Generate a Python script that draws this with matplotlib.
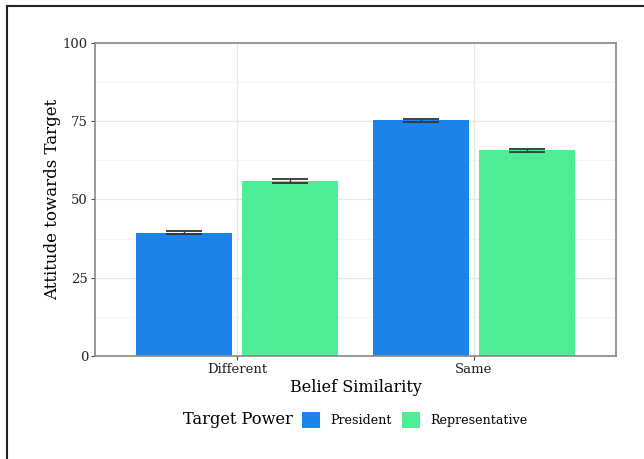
import numpy as np
import matplotlib
matplotlib.use("Agg")
import matplotlib.pyplot as plt
from matplotlib.lines import Line2D
from matplotlib.patches import Patch

# mean attitude by belief similarity and target power
similarity = ["Different", "Same"]
groups = ["President", "Representative"]
president = [39.4, 75.3]
representative = [55.9, 65.7]
president_se = [0.6, 0.5]
representative_se = [0.6, 0.5]
y_ticks = [0, 25, 50, 75, 100]

colors = {"President": "#1c83ea", "Representative": "#4eec94"}

plt.rcParams["font.family"] = ["DejaVu Serif"]

fig = plt.figure(figsize=(6.44, 4.59), dpi=100)
ax = fig.add_axes([95 / 644, 1 - 356 / 459, (616 - 95) / 644, (356 - 42.7) / 459])

x = np.arange(1, len(similarity) + 1)
offset = 0.225
width = 0.405
for vals, errs, name, sign in [(president, president_se, "President", -1),
                               (representative, representative_se, "Representative", 1)]:
    pos = x + sign * offset
    ax.bar(pos, vals, width=width, color=colors[name], zorder=2)
    ax.errorbar(pos, vals, yerr=errs, fmt="none", ecolor="#333333",
                elinewidth=1.0, capsize=13, capthick=1.3, zorder=3)

ax.set_xlim(0.4, 2.6)
ax.set_ylim(0, 100)
ax.set_xticks(x)
ax.set_xticklabels(similarity)
ax.set_yticks(y_ticks)
ax.set_yticks([12.5, 37.5, 62.5, 87.5], minor=True)
ax.grid(True, which="major", color="#e6e6e6", linewidth=0.9, zorder=0)
ax.grid(True, which="minor", axis="y", color="#f2f2f2", linewidth=0.6, zorder=0)
ax.set_axisbelow(True)
for s in ax.spines.values():
    s.set_color("#888888")
    s.set_linewidth(1.2)
ax.tick_params(axis="both", which="major", length=3, color="#444444",
               labelsize=9.5, labelcolor="#222222", pad=2)
ax.tick_params(axis="both", which="minor", length=0)

ax.set_xlabel("Belief Similarity", fontsize=11.5, labelpad=2)
ax.set_ylabel("Attitude towards Target", fontsize=12, labelpad=1)

# legend: title text on the left, keys in a row next to it
fig.text(183 / 644, 1 - 420 / 459, "Target Power", fontsize=11.7, va="center", ha="left")
handles = [Patch(facecolor=colors[g], edgecolor="none", label=g) for g in groups]
fig.legend(handles=handles, loc="center left", bbox_to_anchor=(302 / 644, 1 - 420 / 459),
           ncol=2, frameon=False, fontsize=9.1, borderpad=0, borderaxespad=0,
           handlelength=1.45, handleheight=1.45, handletextpad=0.8, columnspacing=0.8)

# outer frame along the top and left edges
fig.add_artist(Line2D([7 / 644, 1], [1 - 5.5 / 459] * 2, color="#222222", linewidth=1.5))
fig.add_artist(Line2D([7 / 644] * 2, [0, 1 - 5.5 / 459], color="#222222", linewidth=1.5))

fig.savefig("out.png", dpi=100)
